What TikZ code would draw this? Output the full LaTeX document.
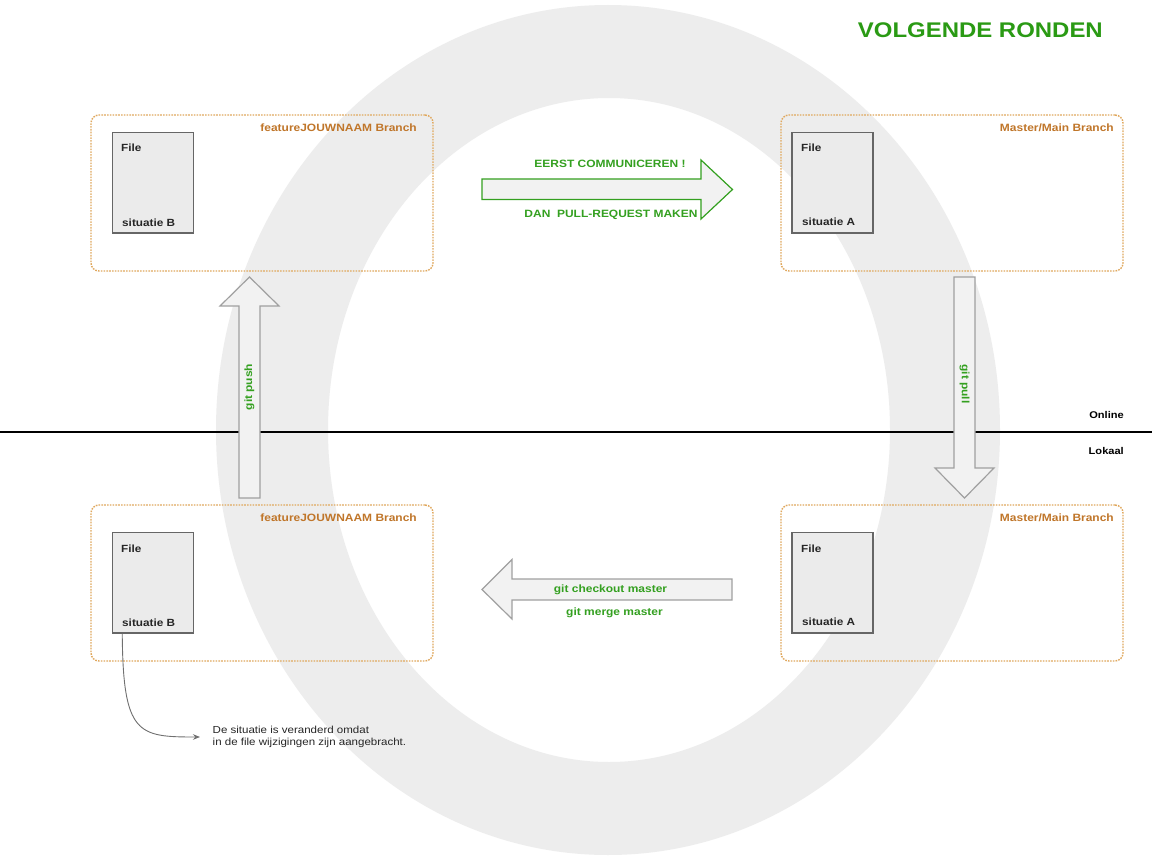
\documentclass[tikz,border=0pt]{standalone}
\usepackage{fontspec}
\setmainfont{Liberation Sans}[FakeStretch=1.13]
\usetikzlibrary{arrows.meta,calc}
\definecolor{ringgray}{HTML}{EDEDED}
\definecolor{titlegreen}{HTML}{2A9A14}
\definecolor{labelgreen}{HTML}{34A020}
\definecolor{branchorange}{HTML}{C0762A}
\definecolor{dashorange}{HTML}{E0A85E}
\definecolor{filefill}{HTML}{EBEBEB}
\definecolor{fileedge}{HTML}{666666}
\definecolor{arrowfill}{HTML}{F2F2F2}
\definecolor{arrowedge}{HTML}{A0A0A0}
\definecolor{notegray}{HTML}{707070}
\tikzset{
  branchbox/.style={draw=dashorange, line width=1.4pt, dash pattern=on 1.6pt off 1.2pt,
    rounded corners=8pt, minimum width=342pt, minimum height=156pt, inner sep=0pt},
  filebox/.style={draw=fileedge, fill=filefill, line width=1.5pt,
    minimum width=81pt, minimum height=100.5pt, inner sep=0pt},
  filetext/.style={font=\fontsize{10.4}{12}\selectfont\bfseries, text=black!85, inner sep=0pt},
  branchtext/.style={font=\fontsize{10.6}{12}\selectfont\bfseries, text=branchorange, inner sep=0pt},
  greentext/.style={font=\fontsize{10.6}{12}\selectfont\bfseries, text=labelgreen, inner sep=0pt},
  sidetext/.style={font=\fontsize{9.8}{12}\selectfont\bfseries, text=black, inner sep=0pt},
  notetext/.style={font=\fontsize{10.2}{12.5}\selectfont, text=black!85, inner sep=0pt, align=left},
  greyarrow/.style={draw=arrowedge, fill=arrowfill, line width=1.2pt, line join=miter},
  greenarrow/.style={draw=labelgreen, fill=arrowfill, line width=1.2pt, line join=miter},
}
\begin{document}
\begin{tikzpicture}[x=1pt,y=-1pt]
\useasboundingbox (0,0) rectangle (1152,864);
\fill[white] (0,0) rectangle (1152,864);
% background ring
\fill[ringgray, even odd rule] (608,430) ellipse [x radius=392, y radius=425]
      (609,430) ellipse [x radius=281, y radius=332];

% title
\node[font=\fontsize{21.2}{25}\selectfont\bfseries, text=titlegreen, anchor=base east, inner sep=0pt]
  (title) at (1103,37.5) {VOLGENDE RONDEN};

% online / lokaal divider
\coordinate (lineL) at (0,432);
\coordinate (lineR) at (1152,432);
\draw[black, line width=2pt] (lineL) -- (lineR);
\node[sidetext, anchor=base east] (online) at (1124,418) {Online};
\node[sidetext, anchor=base east] (lokaal) at (1124,454.5) {Lokaal};

% branch boxes
\node[branchbox] (tl) at (262,193) {};
\node[branchbox] (tr) at (952,193) {};
\node[branchbox] (bl) at (262,583) {};
\node[branchbox] (br) at (952,583) {};

\node[branchtext, anchor=base east] (tllbl) at (417,131.5) {featureJOUWNAAM Branch};
\node[branchtext, anchor=base east] (trlbl) at (1114,131.5) {Master/Main Branch};
\node[branchtext, anchor=base east] (bllbl) at (417,521.5) {featureJOUWNAAM Branch};
\node[branchtext, anchor=base east] (brlbl) at (1114,521.5) {Master/Main Branch};

% file boxes
\node[filebox] (ftl) at (152.8,182.7) {};
\node[filebox] (ftr) at (832.6,182.7) {};
\node[filebox] (fbl) at (152.8,582.7) {};
\node[filebox] (fbr) at (832.6,582.7) {};

\node[filetext, anchor=base west] (ftlf) at (121,152) {File};
\node[filetext, anchor=base west] (ftls) at (122,226.5) {situatie B};
\node[filetext, anchor=base west] (ftrf) at (801,152) {File};
\node[filetext, anchor=base west] (ftrs) at (802,225.5) {situatie A};
\node[filetext, anchor=base west] (fblf) at (121,552) {File};
\node[filetext, anchor=base west] (fbls) at (122,626.5) {situatie B};
\node[filetext, anchor=base west] (fbrf) at (801,552) {File};
\node[filetext, anchor=base west] (fbrs) at (802,625.5) {situatie A};

% top arrow: pull request
\draw[greenarrow] (482,179) -- (701,179) -- (701,160) -- (732.5,189.5) -- (701,219)
   -- (701,199.5) -- (482,199.5) -- cycle;
\node[greentext, anchor=base] (eerst) at (610,167.5) {EERST COMMUNICEREN !};
\node[greentext, anchor=base] (dan) at (611,218) {DAN\ \ PULL-REQUEST MAKEN};

% bottom arrow: checkout / merge
\draw[greyarrow] (732,579) -- (512,579) -- (512,559.5) -- (482,589.5) -- (512,619)
   -- (512,600) -- (732,600) -- cycle;
\node[greentext, anchor=base] (checkout) at (610.5,592) {git checkout master};
\node[greentext, anchor=base] (merge) at (614.5,615.5) {git merge master};

% git pull arrow (down)
\draw[greyarrow] (954,277) -- (975,277) -- (975,468) -- (994,468) -- (964.5,498)
   -- (935,468) -- (954,468) -- cycle;
\node[greentext, rotate=-90] (pull) at (964.5,384) {git pull};

% git push arrow (up)
\draw[greyarrow] (249.5,277) -- (279,306) -- (260,306) -- (260,498) -- (239,498)
   -- (239,306) -- (220,306) -- cycle;
\node[greentext, rotate=90] (push) at (249.5,387) {git push};

% annotation
\node[notetext, anchor=north west] (note) at (212.5,725.5) {De situatie is veranderd omdat\\in de file wijzigingen zijn aangebracht.};
\coordinate (noteend) at ($(note.north west)+(-12.5,11.5)$);
\coordinate (notestart) at ($(fbl.south west)+(10.7,0)$);
\draw[notegray, line width=0.9pt, -{Stealth[length=7pt, width=5.5pt]}]
  (notestart) .. controls (123,735) and (138,737) .. (noteend);
\end{tikzpicture}
\end{document}
